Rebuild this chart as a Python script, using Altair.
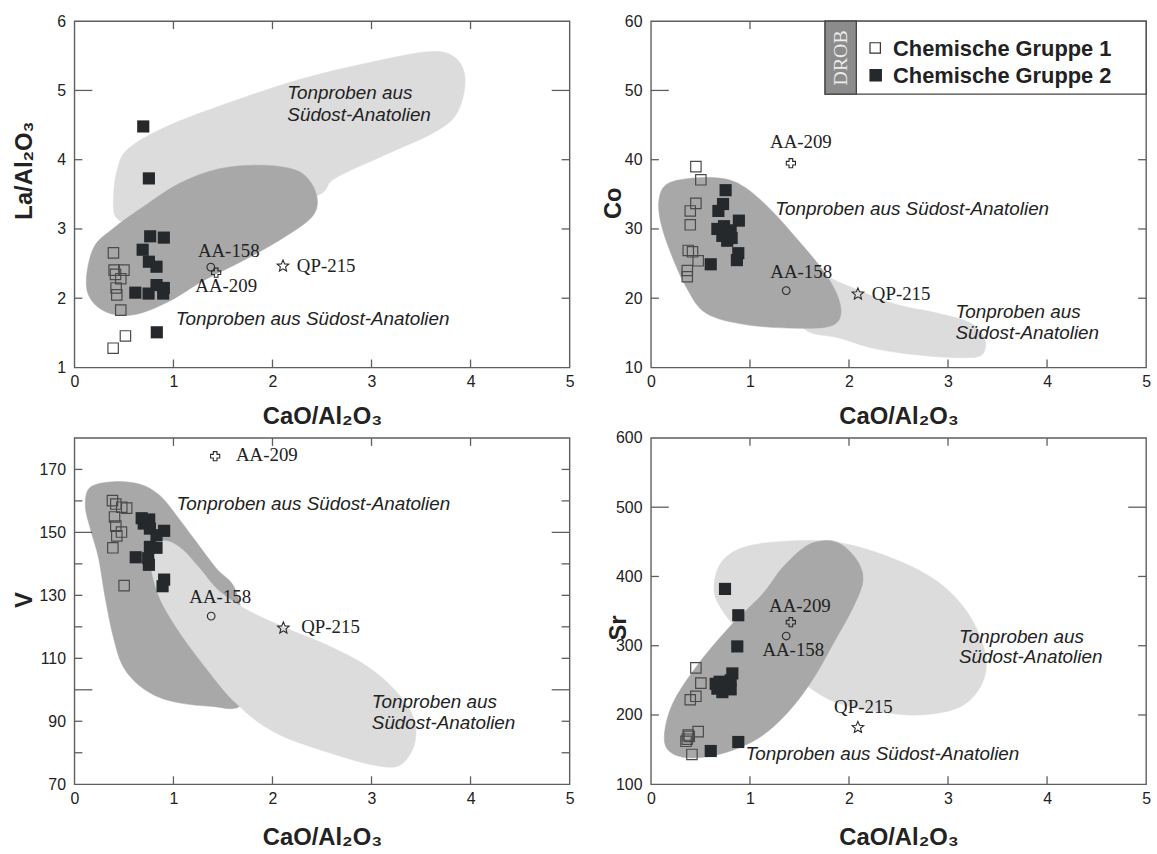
import math
import altair as alt
import pandas as pd

SANS = "Liberation Sans"
SERIF = "Liberation Serif"
INK = "#222222"
FRAME = "#5e5e5e"
LIGHT = "#dcdcdc"
DARK = "#a8a8a8"
FILLED = "#26292c"
W, H = 499, 349

SAMPLES = ["AA-158", "AA-209", "QP-215"]
X_LABELS = [0, 1, 2, 3, 4, 5]
X_TICKS = [1, 2, 3, 4]

# ---------------- La/Al2O3 ----------------
la_g1_x = [0.394, 0.401, 0.500, 0.415, 0.468, 0.421, 0.428, 0.468, 0.515, 0.391]
la_g1_y = [2.655, 2.406, 2.406, 2.344, 2.282, 2.148, 2.048, 1.828, 1.455, 1.278]
la_g2_x = [0.695, 0.752, 0.765, 0.903, 0.689, 0.752, 0.829, 0.615, 0.749, 0.829, 0.903, 0.896, 0.832]
la_g2_y = [4.48, 3.73, 2.894, 2.875, 2.70, 2.527, 2.455, 2.08, 2.067, 2.19, 2.148, 2.067, 1.508]
la_ref_x = [1.377, 1.431, 2.106]
la_ref_y = [2.449, 2.369, 2.464]
la_light_x = [0.394, 0.428, 0.545, 0.963, 1.632, 2.30, 2.97, 3.57, 3.84, 3.945, 3.87, 3.64, 3.14, 2.63, 2.43, 1.63, 0.63, 0.428]
la_light_y = [3.40, 3.83, 4.16, 4.50, 4.86, 5.17, 5.40, 5.56, 5.48, 5.17, 4.69, 4.40, 4.07, 3.73, 3.47, 3.20, 3.11, 3.16]
la_dark_x = [0.12, 0.194, 0.394, 0.695, 1.063, 1.464, 1.90, 2.267, 2.434, 2.417, 2.13, 1.70, 1.297, 0.963, 0.629, 0.361, 0.177]
la_dark_y = [2.25, 2.73, 3.01, 3.32, 3.66, 3.87, 3.92, 3.83, 3.54, 3.21, 2.89, 2.54, 2.25, 1.96, 1.77, 1.78, 1.96]
la_note_x = [1.023, 2.15, 2.15]
la_note_y = [1.70, 4.966, 4.65]
la_note_t = ["Tonproben aus Südost-Anatolien", "Tonproben aus", "Südost-Anatolien"]

# ---------------- Co ----------------
co_g1_x = [0.454, 0.504, 0.454, 0.397, 0.397, 0.377, 0.420, 0.477, 0.367, 0.367]
co_g1_y = [39.0, 37.1, 33.7, 32.6, 30.6, 26.9, 26.7, 25.4, 24.0, 23.1]
co_g2_x = [0.754, 0.728, 0.681, 0.888, 0.738, 0.671, 0.721, 0.815, 0.805, 0.882, 0.868, 0.604, 0.770]
co_g2_y = [35.6, 33.6, 32.6, 31.2, 30.4, 30.0, 29.0, 28.7, 29.8, 26.5, 25.5, 24.9, 28.3]
co_ref_x = [1.366, 1.413, 2.090]
co_ref_y = [21.1, 39.5, 20.6]
co_light_x = [1.289, 1.723, 2.09, 2.49, 2.89, 3.226, 3.367, 3.36, 3.226, 2.79, 2.29, 1.89, 1.556, 1.356]
co_light_y = [27.38, 23.57, 21.19, 19.05, 17.86, 16.43, 14.29, 12.14, 11.43, 11.67, 12.62, 14.29, 15.48, 20.24]
co_dark_x = [0.080, 0.153, 0.387, 0.721, 0.955, 1.222, 1.489, 1.723, 1.874, 1.917, 1.807, 1.456, 0.955, 0.554, 0.354, 0.203, 0.103]
co_dark_y = [34.05, 36.4, 37.3, 37.3, 35.96, 32.6, 28.33, 24.29, 20.71, 17.62, 15.95, 15.67, 16.19, 17.86, 21.67, 26.43, 30.7]
co_note_x = [1.256, 3.076, 3.076]
co_note_y = [32.86, 18.0, 14.9]
co_note_t = ["Tonproben aus Südost-Anatolien", "Tonproben aus", "Südost-Anatolien"]

# ---------------- V ----------------
v_g1_x = [0.384, 0.418, 0.478, 0.528, 0.405, 0.418, 0.475, 0.428, 0.388, 0.502]
v_g1_y = [160.1, 159.0, 158.0, 157.7, 154.9, 152.0, 150.1, 148.9, 145.1, 133.1]
v_g2_x = [0.679, 0.755, 0.700, 0.762, 0.906, 0.829, 0.762, 0.829, 0.619, 0.745, 0.752, 0.906, 0.890]
v_g2_y = [154.5, 154.1, 152.8, 151.2, 150.5, 149.1, 145.4, 145.1, 142.1, 141.8, 139.7, 135.0, 132.9]
v_ref_x = [1.381, 1.421, 2.110]
v_ref_y = [123.4, 174.2, 119.6]
v_dark_x = [0.110, 0.160, 0.394, 0.662, 0.863, 1.03, 1.23, 1.431, 1.632, 1.732, 1.698, 1.364, 0.963, 0.695, 0.495, 0.394, 0.311, 0.244, 0.16]
v_dark_y = [158.5, 164.3, 166.1, 165.3, 161.7, 155.4, 147.0, 138.6, 131.3, 113.5, 95.7, 94.8, 96.5, 100.4, 107.2, 116.6, 129.2, 141.8, 151.2]
v_light_x = [0.762, 0.812, 0.946, 1.096, 1.264, 1.464, 1.765, 2.167, 2.60, 2.969, 3.237, 3.42, 3.437, 3.30, 3.07, 2.635, 2.033, 1.632, 1.297, 1.03, 0.846]
v_light_y = [141.8, 146.5, 147.2, 144.4, 138.6, 131.3, 125.0, 119.2, 113.5, 107.2, 99.9, 91.5, 83.1, 76.3, 75.8, 79.4, 86.3, 95.7, 108.2, 119.8, 130.3]
v_note_x = [1.03, 3.003, 3.003]
v_note_y = [159.0, 96.2, 89.4]
v_note_t = ["Tonproben aus Südost-Anatolien", "Tonproben aus", "Südost-Anatolien"]

# ---------------- Sr ----------------
sr_g1_x = [0.454, 0.504, 0.454, 0.397, 0.477, 0.387, 0.367, 0.354, 0.414, 0.377]
sr_g1_y = [268, 246, 227, 222, 176, 169, 165, 162, 143, 171]
sr_g2_x = [0.748, 0.882, 0.872, 0.822, 0.694, 0.805, 0.671, 0.761, 0.805, 0.721, 0.882, 0.604, 0.654]
sr_g2_y = [382, 344, 299, 260, 248, 250, 238, 240, 237, 233, 161, 148, 245]
sr_ref_x = [1.366, 1.413, 2.090]
sr_ref_y = [314, 334, 182]
sr_light_x = [0.637, 0.704, 0.922, 1.356, 1.89, 2.425, 2.892, 3.21, 3.377, 3.343, 3.126, 2.725, 2.29, 1.957, 1.69, 1.289, 0.922, 0.704]
sr_light_y = [383.3, 419, 441.4, 451, 449, 427.1, 392.9, 345.2, 288.1, 245.2, 211.9, 200, 204.8, 214.3, 231, 273.8, 316.7, 354.8]
sr_dark_x = [0.136, 0.186, 0.387, 0.721, 1.088, 1.389, 1.639, 1.857, 2.04, 2.14, 2.09, 1.924, 1.757, 1.556, 1.323, 1.122, 0.788, 0.454, 0.22]
sr_dark_y = [171.4, 147.6, 138.1, 144.3, 166.7, 204.8, 252.4, 307.1, 354.8, 392.9, 421.4, 446.2, 451.9, 442.9, 411.9, 373.8, 326.2, 269, 216.7]
sr_note_x = [0.955, 3.11, 3.11]
sr_note_y = [142.9, 311.9, 283.3]
sr_note_t = ["Tonproben aus Südost-Anatolien", "Tonproben aus", "Südost-Anatolien"]

LEGEND_LABELS = ["Chemische Gruppe 1", "Chemische Gruppe 2"]


def star_path(inner=0.45):
    """Five-pointed star as an SVG path in the unit symbol box."""
    pts = []
    for k in range(10):
        r = 1.0 if k % 2 == 0 else inner
        a = math.radians(-90 + 36 * k)
        pts.append(f"{r * math.cos(a):.3f},{r * math.sin(a):.3f}")
    return "M" + " L".join(pts) + " Z"


STAR = star_path()


def blob(xs, ys, color, X, Y):
    df = pd.DataFrame({"x": xs, "y": ys, "i": list(range(len(xs)))})
    return alt.Chart(df).mark_line(
        interpolate="cardinal-closed", fill=color, color=color, strokeWidth=0.5
    ).encode(x=X, y=Y, order="i:Q")


def inner_ticks(X, Y, yticks, ylong):
    style = dict(color=FRAME, strokeWidth=1.3)
    tx = pd.DataFrame({"x": X_TICKS})
    layers = [
        alt.Chart(tx).mark_rule(**style).encode(x=X, y=alt.value(H), y2=alt.value(H - 8)),
        alt.Chart(tx).mark_rule(**style).encode(x=X, y=alt.value(0), y2=alt.value(8)),
    ]
    for vals, ln in ((yticks, 8), (ylong, 18)):
        ty = pd.DataFrame({"y": vals})
        layers.append(alt.Chart(ty).mark_rule(**style).encode(y=Y, x=alt.value(0), x2=alt.value(ln)))
        layers.append(alt.Chart(ty).mark_rule(**style).encode(y=Y, x=alt.value(W - ln), x2=alt.value(W)))
    return layers


def panel(p):
    X = alt.X(
        "x:Q",
        scale=alt.Scale(domain=[0, 5], nice=False, zero=False),
        axis=alt.Axis(
            values=X_LABELS, format="d", labelFlush=False,
            ticks=False, domain=False, grid=False, labelPadding=6,
            labelFont=SANS, labelFontSize=16, labelColor=INK,
            title="CaO/Al₂O₃", titleFont=SANS, titleFontSize=24, titleFontWeight="bold",
            titleColor=INK, titlePadding=p["xtitle_pad"],
        ),
    )
    Y = alt.Y(
        "y:Q",
        scale=alt.Scale(domain=p["ydomain"], nice=False, zero=False),
        axis=alt.Axis(
            values=p["ylabels"], format="d", labelFlush=False,
            ticks=False, domain=False, grid=False, labelPadding=9,
            labelFont=SANS, labelFontSize=16, labelColor=INK,
            title=p["ytitle"], titleFont=SANS, titleFontSize=24, titleFontWeight="bold",
            titleColor=INK, titleAngle=270, titleAlign="center", titleBaseline="middle",
            titleX=p["ytitle_xy"][0], titleY=p["ytitle_xy"][1],
        ),
    )

    light = blob(p["light"][0], p["light"][1], LIGHT, X, Y)
    dark = blob(p["dark"][0], p["dark"][1], DARK, X, Y)
    layers = [dark, light] if p["light_on_top"] else [light, dark]
    layers += inner_ticks(X, Y, p["yticks"], p["ylong"])

    notes = pd.DataFrame({"x": p["notes"][0], "y": p["notes"][1], "t": p["notes"][2]})
    layers.append(
        alt.Chart(notes).mark_text(
            font=SANS, fontStyle="italic", fontSize=19, align="left", baseline="middle", color=INK
        ).encode(x=X, y=Y, text="t:N")
    )

    g1 = pd.DataFrame({"x": p["g1"][0], "y": p["g1"][1]})
    g2 = pd.DataFrame({"x": p["g2"][0], "y": p["g2"][1]})
    layers.append(
        alt.Chart(g1).mark_point(shape="square", filled=False, size=110, color="#4a4a4a",
                                 strokeWidth=1.2, opacity=1).encode(x=X, y=Y)
    )
    layers.append(
        alt.Chart(g2).mark_point(shape="square", filled=True, size=150, color=FILLED,
                                 opacity=1).encode(x=X, y=Y)
    )

    shapes = {"AA-158": ("circle", 60), "AA-209": ("cross", 85), "QP-215": (STAR, 150)}
    for name, rx, ry in zip(SAMPLES, p["ref"][0], p["ref"][1]):
        one = pd.DataFrame({"x": [rx], "y": [ry], "t": [name]})
        shp, sz = shapes[name]
        layers.append(
            alt.Chart(one).mark_point(shape=shp, filled=False, size=sz, color="#2a2a2a",
                                      strokeWidth=1.1, opacity=1).encode(x=X, y=Y)
        )
        dx, dy = p["ref_label"][name]
        layers.append(
            alt.Chart(one).mark_text(font=SERIF, fontSize=19, align="left", baseline="middle",
                                     color=INK, dx=dx, dy=dy).encode(x=X, y=Y, text="t:N")
        )

    if p.get("legend"):
        one = pd.DataFrame({"k": [0]})
        layers.append(alt.Chart(one).mark_rect(fill="white", stroke="#444444", strokeWidth=1.3).encode(
            x=alt.value(175.5), x2=alt.value(W), y=alt.value(0), y2=alt.value(73.5)))
        layers.append(alt.Chart(one).mark_rect(fill="#8c8c8c", stroke="#444444", strokeWidth=1.3).encode(
            x=alt.value(175.5), x2=alt.value(207), y=alt.value(0), y2=alt.value(73.5)))
        layers.append(alt.Chart(one).mark_text(
            text="DROB", font=SERIF, fontSize=20, angle=270, align="center", baseline="middle",
            color="#ececec").encode(x=alt.value(191.5), y=alt.value(37)))
        layers.append(alt.Chart(one).mark_point(
            shape="square", filled=False, size=110, color="#333333", strokeWidth=1.2, opacity=1
        ).encode(x=alt.value(226), y=alt.value(27)))
        layers.append(alt.Chart(one).mark_point(
            shape="square", filled=True, size=160, color=FILLED, opacity=1
        ).encode(x=alt.value(226.5), y=alt.value(54.5)))
        for lab, yy in zip(LEGEND_LABELS, (28, 55)):
            layers.append(alt.Chart(one).mark_text(
                text=lab, font=SANS, fontSize=22, fontWeight="bold", align="left",
                baseline="middle", color=INK).encode(x=alt.value(244), y=alt.value(yy)))

    return alt.layer(*layers).properties(width=W, height=H)


p_la = panel(dict(
    ydomain=[1, 6], ylabels=[1, 2, 3, 4, 5, 6], yticks=[2, 3, 4], ylong=[5],
    ytitle="La/Al₂O₃", ytitle_xy=(-50, 150), xtitle_pad=15,
    light=(la_light_x, la_light_y), dark=(la_dark_x, la_dark_y), light_on_top=False,
    g1=(la_g1_x, la_g1_y), g2=(la_g2_x, la_g2_y), ref=(la_ref_x, la_ref_y),
    notes=(la_note_x, la_note_y, la_note_t),
    ref_label={"AA-158": (-13, -16), "AA-209": (-21, 13), "QP-215": (14, 0)},
))
p_co = panel(dict(
    ydomain=[10, 60], ylabels=[10, 20, 30, 40, 50, 60], yticks=[20, 30, 40], ylong=[50],
    ytitle="Co", ytitle_xy=(-38, 183), xtitle_pad=15,
    light=(co_light_x, co_light_y), dark=(co_dark_x, co_dark_y), light_on_top=False,
    g1=(co_g1_x, co_g1_y), g2=(co_g2_x, co_g2_y), ref=(co_ref_x, co_ref_y),
    notes=(co_note_x, co_note_y, co_note_t),
    ref_label={"AA-158": (-16, -19), "AA-209": (-21, -21), "QP-215": (14, 0)},
    legend=True,
))
p_v = panel(dict(
    ydomain=[70, 180], ylabels=[70, 90, 110, 130, 150, 170],
    yticks=[80, 90, 110, 120, 130, 140, 160, 170], ylong=[100, 150],
    ytitle="V", ytitle_xy=(-50, 163), xtitle_pad=20,
    light=(v_light_x, v_light_y), dark=(v_dark_x, v_dark_y), light_on_top=True,
    g1=(v_g1_x, v_g1_y), g2=(v_g2_x, v_g2_y), ref=(v_ref_x, v_ref_y),
    notes=(v_note_x, v_note_y, v_note_t),
    ref_label={"AA-158": (-22, -19), "AA-209": (21, -1), "QP-215": (18, -1)},
))
p_sr = panel(dict(
    ydomain=[100, 600], ylabels=[100, 200, 300, 400, 500, 600], yticks=[200, 300, 400], ylong=[500],
    ytitle="Sr", ytitle_xy=(-33, 191), xtitle_pad=20,
    light=(sr_light_x, sr_light_y), dark=(sr_dark_x, sr_dark_y), light_on_top=False,
    g1=(sr_g1_x, sr_g1_y), g2=(sr_g2_x, sr_g2_y), ref=(sr_ref_x, sr_ref_y),
    notes=(sr_note_x, sr_note_y, sr_note_t),
    ref_label={"AA-158": (-24, 14), "AA-209": (-22, -16), "QP-215": (-24, -21)},
))

top = alt.hconcat(p_la, p_co, spacing=25).resolve_scale(x="independent", y="independent")
bottom = alt.hconcat(p_v, p_sr, spacing=30).resolve_scale(x="independent", y="independent")

chart = alt.vconcat(top, bottom, spacing=0).resolve_scale(
    x="independent", y="independent"
).properties(
    padding={"left": 12, "top": 9, "right": 5, "bottom": 5}, background="white"
).configure_view(stroke=FRAME, strokeWidth=1.4)

chart.save("out.html", embed_options={"renderer": "svg", "actions": False})
